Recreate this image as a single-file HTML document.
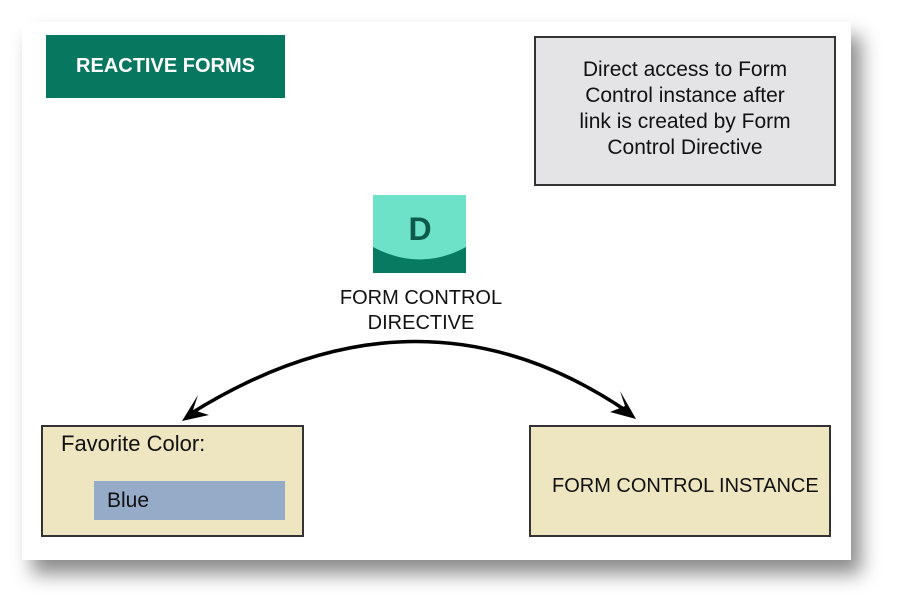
<!DOCTYPE html>
<html><head><style>
body{margin:0;width:904px;height:615px;background:#fff;position:relative;overflow:hidden;font-family:"Liberation Sans",sans-serif}
.card{position:absolute;left:22px;top:22px;width:829px;height:538px;background:#fff;box-shadow:10px 14px 18px rgba(0,0,0,.45)}
.a{position:absolute;box-sizing:border-box;white-space:nowrap}
</style></head><body>
<div class="card"></div>
<div class="a" style="left:46px;top:35px;width:239px;height:63px;background:#08775f;color:#fff;font-weight:bold;font-size:20px;line-height:63px;text-align:center">REACTIVE FORMS</div>
<div class="a" style="left:534px;top:36px;width:302px;height:150px;background:#e4e4e6;border:2px solid #333;font-size:21px;line-height:26px;text-align:center;padding-top:19px;color:#111">Direct access to Form<br>Control instance after<br>link is created by Form<br>Control Directive</div>
<svg class="a" style="left:0;top:0" width="904" height="615">
<rect x="373" y="195" width="93" height="78" fill="#6ee1c9"/>
<path d="M373 247 Q420 272 466 247 L466 273 L373 273 Z" fill="#087a62"/>
<text x="420" y="240" font-family="Liberation Sans" font-weight="bold" font-size="32" fill="#0b5a4a" text-anchor="middle">D</text>
<path d="M190 414 Q420 270 628 412" fill="none" stroke="#000" stroke-width="3.5"/>
<polygon points="182,421 198,395 193,410 209,415" fill="#000"/>
<polygon points="636,419 610,412 625,406 620,391" fill="#000"/>
</svg>
<div class="a" style="left:300px;top:286px;width:242px;font-size:20px;line-height:25px;text-align:center;color:#111">FORM CONTROL<br>DIRECTIVE</div>
<div class="a" style="left:41px;top:425px;width:263px;height:112px;background:#ede6c1;border:2px solid #333"></div>
<div class="a" style="left:61px;top:431px;font-size:22px;color:#111">Favorite Color:</div>
<div class="a" style="left:94px;top:481px;width:191px;height:39px;background:#95abc8;font-size:21px;line-height:39px;padding-left:13px;color:#111">Blue</div>
<div class="a" style="left:529px;top:425px;width:302px;height:112px;background:#ede6c1;border:2px solid #333;font-size:20px;line-height:118px;padding-left:21px;color:#111">FORM CONTROL INSTANCE</div>
</body></html>
